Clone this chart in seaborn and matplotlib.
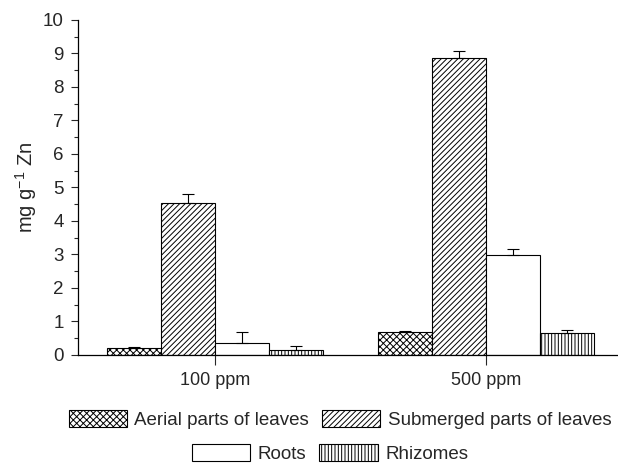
import matplotlib
matplotlib.use("Agg")
import matplotlib.pyplot as plt
import seaborn as sns
import pandas as pd
import numpy as np
from matplotlib.patches import Patch
from matplotlib.ticker import MultipleLocator

sns.set_style("ticks")
plt.rcParams['font.family'] = ['Liberation Sans', 'DejaVu Sans']
plt.rcParams['hatch.linewidth'] = 0.7

concentrations = ["100 ppm", "500 ppm"]
parts = ["Aerial parts of leaves", "Submerged parts of leaves", "Roots", "Rhizomes"]
aerial = [0.20, 0.69]
submerged = [4.55, 8.88]
roots = [0.36, 2.97]
rhizomes = [0.14, 0.66]
aerial_err = [0.05, 0.03]
submerged_err = [0.25, 0.20]
roots_err = [0.33, 0.18]
rhizomes_err = [0.13, 0.10]

values = [aerial, submerged, roots, rhizomes]
errors = [aerial_err, submerged_err, roots_err, rhizomes_err]
hatches = ["xxxxx", "//////", "", "|||||"]

rows = []
for p, vals in zip(parts, values):
    for c, v in zip(concentrations, vals):
        rows.append({"conc": c, "part": p, "value": v})
df = pd.DataFrame(rows)

fig = plt.figure(figsize=(6.18, 4.65), dpi=100)
ax = fig.add_axes([0.126, 0.2366, 0.872, 0.7204])

sns.barplot(data=df, x="conc", y="value", hue="part", order=concentrations,
            hue_order=parts, palette=["white"] * 4, edgecolor="black",
            linewidth=0.8, width=0.8, errorbar=None, legend=False, ax=ax,
            saturation=1)

for cont, h, err in zip(ax.containers, hatches, errors):
    xs, ys = [], []
    for bar in cont:
        bar.set_hatch(h)
        bar.set_facecolor("white")
        bar.set_edgecolor("black")
        xs.append(bar.get_x() + bar.get_width() / 2)
        ys.append(bar.get_height())
    ax.errorbar(xs, ys, yerr=[np.zeros(len(err)), err], fmt="none",
                ecolor="black", elinewidth=0.8, capsize=4, capthick=0.8)

ax.set_xlim(-0.506, 1.483)
ax.set_ylim(0, 10)
ax.yaxis.set_major_locator(MultipleLocator(1))
ax.yaxis.set_minor_locator(MultipleLocator(0.5))
ax.tick_params(axis="y", which="major", direction="out", length=5, width=0.8, labelsize=13.5, pad=5)
ax.tick_params(axis="y", which="minor", direction="out", length=3, width=0.8)
ax.tick_params(axis="x", direction="out", length=7, width=0.8, labelsize=13, pad=5)
ax.set_xlabel("")
ax.set_ylabel(r"mg g$^{\mathregular{-1}}$ Zn", fontsize=14.5, labelpad=3)
sns.despine(ax=ax)
for s in ["left", "bottom"]:
    ax.spines[s].set_linewidth(0.9)
    ax.spines[s].set_color("black")

def mk(h):
    return Patch(facecolor="white", edgecolor="black", hatch=h, linewidth=0.8)

leg_kw = dict(frameon=False, fontsize=13.5, handlelength=3.1, handleheight=1.0,
              handletextpad=0.4, columnspacing=0.7, borderaxespad=0, borderpad=0)
fig.legend([mk(hatches[0]), mk(hatches[1])], parts[:2], ncol=2,
           loc="center", bbox_to_anchor=(0.55, 0.097), **leg_kw)
fig.legend([mk(hatches[2]), mk(hatches[3])], parts[2:], ncol=2,
           loc="center", bbox_to_anchor=(0.534, 0.025), **leg_kw)

fig.savefig("out.png", dpi=100)
